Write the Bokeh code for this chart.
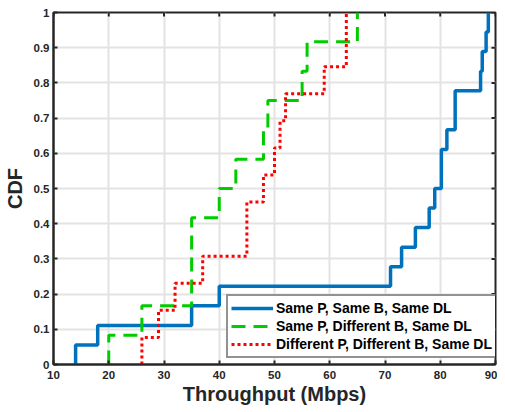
import numpy as np
from bokeh.plotting import figure
from bokeh.models import FixedTicker, Legend, LegendItem, Range1d
from bokeh.embed import file_html
from bokeh.resources import INLINE

# Throughput samples (Mbps)
same_p_same_b = [14, 18, 35, 40, 71, 73, 75.5, 78, 79, 80.2, 80.2, 81.2,
                 82.7, 82.7, 87.3, 87.6, 88.3, 88.7]
same_p_diff_b = [20, 26, 35, 35, 35, 40, 43, 48, 48.8, 55, 55.9, 65]
diff_p_diff_b = [26, 29, 32, 37, 45, 45, 48, 50, 51, 52, 59, 63, 63]

series_names = ["Same P, Same B, Same DL",
                "Same P, Different B, Same DL",
                "Different P, Different B, Same DL"]

x_ticks = [10, 20, 30, 40, 50, 60, 70, 80, 90]
y_ticks = [0, 0.1, 0.2, 0.3, 0.4, 0.5, 0.6, 0.7, 0.8, 0.9, 1]
y_tick_labels = ["0", "0.1", "0.2", "0.3", "0.4", "0.5", "0.6", "0.7", "0.8", "0.9", "1"]

FONT = "Liberation Sans"
DARK = "#262626"


def cdf_steps(vals):
    v = np.sort(np.asarray(vals, dtype=float))
    n = len(v)
    xs = np.concatenate([[v[0]], v])
    ys = np.concatenate([[0.0], np.arange(1, n + 1) / n])
    return xs, ys


x_lo, x_hi = x_ticks[0], x_ticks[-1]
y_lo, y_hi = y_ticks[0], y_ticks[-1]

p = figure(frame_width=442, frame_height=352, output_backend="svg",
           toolbar_location=None, x_range=Range1d(x_lo, x_hi), y_range=Range1d(y_lo, y_hi),
           min_border_left=53, min_border_top=12, min_border_right=2, min_border_bottom=0)
p.background_fill_color = "white"
p.outline_line_color = DARK
p.outline_line_width = 2

p.xgrid.ticker = FixedTicker(ticks=x_ticks)
p.ygrid.ticker = FixedTicker(ticks=y_ticks)
p.grid.grid_line_color = "#e3e3e3"
p.grid.grid_line_width = 2

styles = [
    dict(line_color="#0072BD", line_width=3.5),
    dict(line_color="#00CC00", line_width=3, line_dash="14 8"),
    dict(line_color="#FF0000", line_width=3, line_dash="3 3"),
]
renderers = []
for vals, st in zip([same_p_same_b, same_p_diff_b, diff_p_diff_b], styles):
    xs, ys = cdf_steps(vals)
    r = p.step(xs, ys, mode="after", **st)
    renderers.append(r)

# inward ticks on the top and right edges of the box
p.ray(x=x_ticks, y=[y_hi] * len(x_ticks), length=4, length_units="screen",
      angle=-np.pi / 2, line_color=DARK, line_width=2)
p.ray(x=[x_hi] * len(y_ticks), y=y_ticks, length=4, length_units="screen",
      angle=np.pi, line_color=DARK, line_width=2)

for ax in (p.xaxis[0], p.yaxis[0]):
    ax.major_tick_in = 4
    ax.major_tick_out = 0
    ax.minor_tick_line_color = None
    ax.axis_line_color = DARK
    ax.axis_line_width = 2
    ax.major_tick_line_color = DARK
    ax.major_tick_line_width = 2
    ax.major_label_text_font = FONT
    ax.major_label_text_font_style = "bold"
    ax.major_label_text_font_size = "11.5px"
    ax.major_label_text_color = DARK
    ax.axis_label_text_font = FONT
    ax.axis_label_text_font_style = "bold"
    ax.axis_label_text_font_size = "20px"
    ax.axis_label_text_color = DARK

p.xaxis[0].ticker = FixedTicker(ticks=x_ticks)
p.yaxis[0].ticker = FixedTicker(ticks=y_ticks)
p.yaxis[0].major_label_overrides = {t: s for t, s in zip(y_ticks, y_tick_labels)}
p.xaxis[0].axis_label = "Throughput (Mbps)"
p.yaxis[0].axis_label = "CDF"
p.xaxis[0].major_label_standoff = 6
p.yaxis[0].major_label_standoff = 4
p.xaxis[0].axis_label_standoff = 1
p.yaxis[0].axis_label_standoff = 5

legend = Legend(items=[LegendItem(label=n, renderers=[r]) for n, r in zip(series_names, renderers)],
                location=(173, 6), margin=0, padding=3, spacing=0,
                glyph_width=42, glyph_height=18, label_height=18, label_standoff=3,
                label_text_font=FONT, label_text_font_style="bold",
                label_text_font_size="14px", label_text_color="black",
                border_line_color=DARK, border_line_width=2,
                background_fill_color="white", background_fill_alpha=1)
p.add_layout(legend, "center")

open("out.html", "w").write(file_html(p, INLINE))
